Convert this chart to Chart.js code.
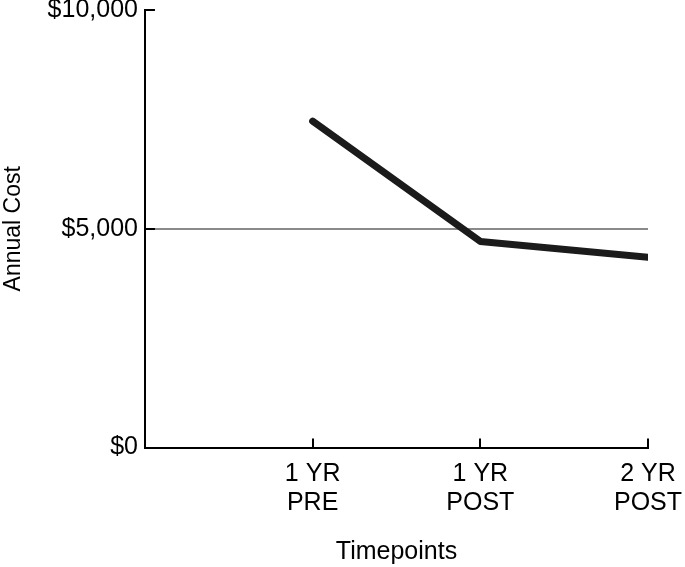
<!DOCTYPE html>
<html>
<head>
<meta charset="utf-8">
<script src="https://cdn.jsdelivr.net/npm/chart.js@4"></script>
<style>
html,body{margin:0;padding:0;background:#fff;}
#wrap{width:685px;height:567px;}
</style>
</head>
<body>
<div id="wrap"><canvas id="c"></canvas></div>
<script>
const categories = ["", ["1 YR","PRE"], ["1 YR","POST"], ["2 YR","POST"]];
const annualCost = [null, 7460, 4710, 4350];
const yTicks = [0, 5000, 10000];
const referenceValue = 5000;

const FONT = "'Liberation Sans', Arial, sans-serif";

const inwardTicks = {
  id: 'inwardTicks',
  afterDraw(chart) {
    const ctx = chart.ctx;
    const x = chart.scales.x, y = chart.scales.y;
    const area = chart.chartArea;
    ctx.save();
    ctx.strokeStyle = '#000';
    ctx.lineWidth = 2;
    ctx.beginPath();
    for (let i = 1; i < categories.length; i++) {
      const px = Math.round(x.getPixelForValue(i));
      ctx.moveTo(px, area.bottom);
      ctx.lineTo(px, area.bottom - 9);
    }
    yTicks.forEach(v => {
      if (v === 0) return;
      const py = Math.round(y.getPixelForValue(v));
      ctx.moveTo(area.left, py);
      ctx.lineTo(area.left + 10, py);
    });
    ctx.stroke();
    ctx.restore();
  }
};

new Chart(document.getElementById('c'), {
  type: 'line',
  data: {
    labels: categories,
    datasets: [{
      data: annualCost,
      borderColor: '#1b1b1b',
      borderWidth: 7,
      borderCapStyle: 'round',
      borderJoinStyle: 'round',
      pointRadius: 0,
      tension: 0,
      clip: 0
    }]
  },
  options: {
    responsive: true,
    maintainAspectRatio: false,
    animation: false,
    layout: { padding: 0 },
    plugins: { legend: { display: false }, tooltip: { enabled: false } },
    scales: {
      x: {
        type: 'category',
        offset: false,
        afterFit(scale) { scale.paddingRight = 37; scale.paddingLeft = 0; },
        grid: { display: false, drawTicks: false },
        border: { display: true, color: '#000', width: 2 },
        ticks: {
          color: '#000',
          font: { family: FONT, size: 25, lineHeight: 1.15 },
          padding: 12,
          maxRotation: 0,
          autoSkip: false
        },
        title: {
          display: true,
          text: 'Timepoints',
          color: '#000',
          font: { family: FONT, size: 25 },
          padding: { top: 8, bottom: 0 }
        }
      },
      y: {
        min: 0,
        max: 10000,
        afterBuildTicks(scale) { scale.ticks = yTicks.map(v => ({ value: v })); },
        afterFit(scale) { scale.paddingTop = 10; },
        grid: {
          drawTicks: false,
          lineWidth: 2,
          color: (c) => (c.tick && c.tick.value === referenceValue) ? '#8a8a8a' : 'rgba(0,0,0,0)'
        },
        border: { display: true, color: '#000', width: 2 },
        ticks: {
          color: '#000',
          font: { family: FONT, size: 25 },
          padding: 7,
          callback: (v) => '$' + Number(v).toLocaleString('en-US')
        },
        title: {
          display: true,
          text: 'Annual Cost',
          color: '#000',
          font: { family: FONT, size: 23 },
          padding: { top: 0, bottom: 13 }
        }
      }
    }
  },
  plugins: [inwardTicks]
});
</script>
</body>
</html>
